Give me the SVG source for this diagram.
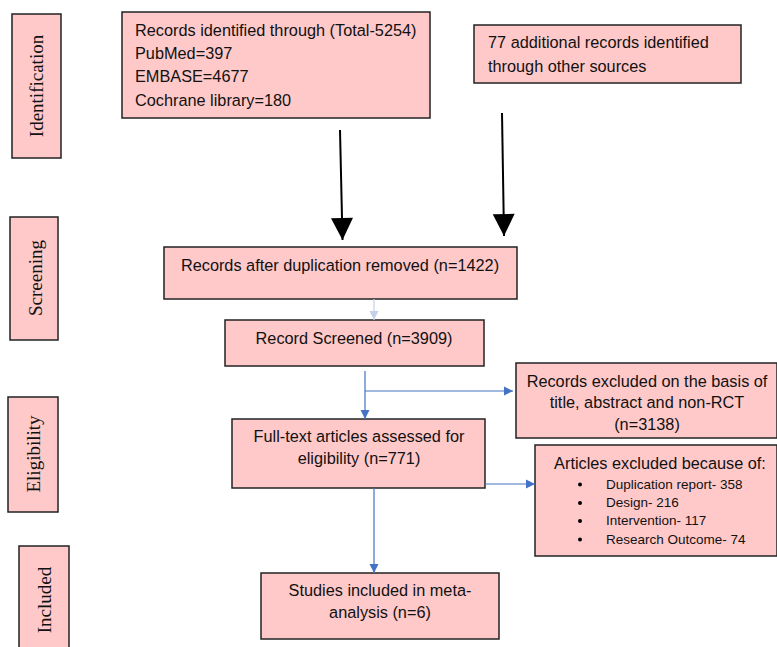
<svg xmlns="http://www.w3.org/2000/svg" width="777" height="647" viewBox="0 0 777 647">
<style>
.box{fill:#ffc9c9;stroke:#222;stroke-width:1.5}
.t{font-family:"Liberation Sans",Arial,sans-serif;font-size:16.3px;fill:#111}
.s{font-family:"Liberation Sans",Arial,sans-serif;font-size:13.5px;fill:#111}
.side{font-family:"Liberation Serif","Times New Roman",serif;font-size:19px;fill:#111}
.blk{stroke:#000;stroke-width:2;fill:none}
.blu{stroke:#4472c4;stroke-width:1.2;fill:none}
</style>
<defs>
<marker id="bh" viewBox="0 0 10 10" refX="10" refY="5" markerWidth="30" markerHeight="22" markerUnits="userSpaceOnUse" orient="auto"><path d="M0,0 L10,5 L0,10 Z" fill="#000"/></marker>
<marker id="bl" viewBox="0 0 10 10" refX="10" refY="5" markerWidth="9" markerHeight="10" markerUnits="userSpaceOnUse" orient="auto"><path d="M0,0 L10,5 L0,10 Z" fill="#4472c4"/></marker>
<marker id="lt" viewBox="0 0 10 10" refX="10" refY="5" markerWidth="9" markerHeight="10" markerUnits="userSpaceOnUse" orient="auto"><path d="M0,0 L10,5 L0,10 Z" fill="#c5cfea"/></marker>
</defs>

<g id="side-identification"><rect class="box" x="12" y="14" width="49" height="144"/><text class="side" transform="translate(43,86) rotate(-90)" text-anchor="middle">Identification</text></g>
<g id="side-screening"><rect class="box" x="10" y="217" width="48" height="123"/><text class="side" transform="translate(42,278) rotate(-90)" text-anchor="middle">Screening</text></g>
<g id="side-eligibility"><rect class="box" x="8" y="397" width="50" height="115"/><text class="side" transform="translate(40,454) rotate(-90)" text-anchor="middle">Eligibility</text></g>
<g id="side-included"><rect class="box" x="19" y="546" width="50" height="110"/><text class="side" transform="translate(51,600) rotate(-90)" text-anchor="middle">Included</text></g>

<g id="n-identified"><rect class="box" x="122" y="12" width="308" height="106"/>
<text class="t" x="135" y="36">Records identified through (Total-5254)</text>
<text class="t" x="135" y="59">PubMed=397</text>
<text class="t" x="135" y="82">EMBASE=4677</text>
<text class="t" x="135" y="106">Cochrane library=180</text></g>

<g id="n-additional"><rect class="box" x="474" y="25" width="267" height="58"/>
<text class="t" x="488" y="48">77 additional records identified</text>
<text class="t" x="488" y="72">through other sources</text></g>

<g id="n-dup"><rect class="box" x="164" y="247" width="353" height="52"/>
<text class="t" x="340" y="271" text-anchor="middle">Records after duplication removed (n=1422)</text></g>

<g id="n-screened"><rect class="box" x="225" y="320" width="259" height="46"/>
<text class="t" x="354" y="344" text-anchor="middle">Record Screened (n=3909)</text></g>

<g id="n-excluded1"><rect class="box" x="516" y="363" width="261" height="75"/>
<text class="t" x="647" y="387" text-anchor="middle">Records excluded on the basis of</text>
<text class="t" x="647" y="408" text-anchor="middle">title, abstract and non-RCT</text>
<text class="t" x="647" y="430" text-anchor="middle">(n=3138)</text></g>

<g id="n-fulltext"><rect class="box" x="232" y="419" width="253" height="69"/>
<text class="t" x="359" y="442" text-anchor="middle">Full-text articles assessed for</text>
<text class="t" x="359" y="464" text-anchor="middle">eligibility (n=771)</text></g>

<g id="n-excluded2"><rect class="box" x="535" y="445" width="242" height="111"/>
<text class="t" x="660" y="469" text-anchor="middle">Articles excluded because of:</text>
<circle cx="580" cy="484.5" r="2"/><text class="s" x="606" y="489">Duplication report- 358</text>
<circle cx="580" cy="503" r="2"/><text class="s" x="606" y="507">Design- 216</text>
<circle cx="580" cy="521" r="2"/><text class="s" x="606" y="525">Intervention- 117</text>
<circle cx="580" cy="539.5" r="2"/><text class="s" x="606" y="544">Research Outcome- 74</text></g>

<g id="n-included"><rect class="box" x="261" y="573" width="238" height="66"/>
<text class="t" x="380" y="596" text-anchor="middle">Studies included in meta-</text>
<text class="t" x="380" y="618" text-anchor="middle">analysis (n=6)</text></g>

<g id="connectors">
<line class="blk" x1="340" y1="130" x2="342.5" y2="240" marker-end="url(#bh)"/>
<line class="blk" x1="502" y1="113" x2="504" y2="236" marker-end="url(#bh)"/>
<line x1="374" y1="299" x2="374" y2="320" stroke="#c5cfea" stroke-width="1.2" marker-end="url(#lt)"/>
<line class="blu" x1="365" y1="371" x2="365" y2="419" marker-end="url(#bl)"/>
<line class="blu" x1="365" y1="391" x2="513" y2="391" marker-end="url(#bl)"/>
<line class="blu" x1="485" y1="484" x2="535" y2="484" marker-end="url(#bl)"/>
<line class="blu" x1="374" y1="488" x2="374" y2="573" marker-end="url(#bl)"/>
</g>
</svg>
